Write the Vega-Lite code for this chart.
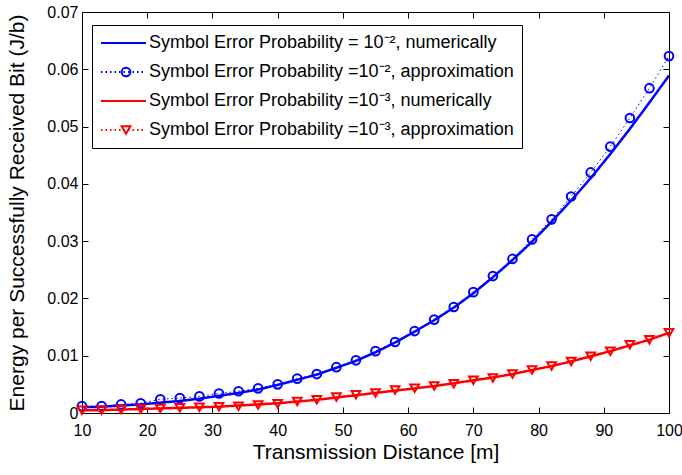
{
  "$schema": "https://vega.github.io/schema/vega-lite/v6.json",
  "width": 587,
  "height": 401,
  "autosize": {"type": "none"},
  "padding": {"left": 82, "top": 12, "right": 13, "bottom": 62},
  "background": "white",
  "config": {
    "font": "Liberation Sans",
    "view": {"stroke": "#000", "strokeWidth": 1},
    "axis": {
      "grid": false, "domain": false, "tickColor": "#000", "tickSize": 6, "offset": -6, "tickWidth": 1, "labelFlush": false,
      "labelColor": "#000", "labelFontSize": 16, "labelFont": "Liberation Sans",
      "titleFontSize": 21, "titleFontWeight": "normal", "titleColor": "#000", "titleFont": "Liberation Sans"
    }
  },
  "data": {
    "values": [
      {"distance": 10, "energy": 0.0010, "series": "Symbol Error Probability = 10⁻², numerically", "key": "n2"},
      {"distance": 13, "energy": 0.0011, "series": "Symbol Error Probability = 10⁻², numerically", "key": "n2"},
      {"distance": 16, "energy": 0.0013, "series": "Symbol Error Probability = 10⁻², numerically", "key": "n2"},
      {"distance": 19, "energy": 0.0015, "series": "Symbol Error Probability = 10⁻², numerically", "key": "n2"},
      {"distance": 22, "energy": 0.0018, "series": "Symbol Error Probability = 10⁻², numerically", "key": "n2"},
      {"distance": 25, "energy": 0.0021, "series": "Symbol Error Probability = 10⁻², numerically", "key": "n2"},
      {"distance": 28, "energy": 0.0025, "series": "Symbol Error Probability = 10⁻², numerically", "key": "n2"},
      {"distance": 31, "energy": 0.0030, "series": "Symbol Error Probability = 10⁻², numerically", "key": "n2"},
      {"distance": 34, "energy": 0.0035, "series": "Symbol Error Probability = 10⁻², numerically", "key": "n2"},
      {"distance": 37, "energy": 0.0041, "series": "Symbol Error Probability = 10⁻², numerically", "key": "n2"},
      {"distance": 40, "energy": 0.0049, "series": "Symbol Error Probability = 10⁻², numerically", "key": "n2"},
      {"distance": 43, "energy": 0.0058, "series": "Symbol Error Probability = 10⁻², numerically", "key": "n2"},
      {"distance": 46, "energy": 0.0067, "series": "Symbol Error Probability = 10⁻², numerically", "key": "n2"},
      {"distance": 49, "energy": 0.0079, "series": "Symbol Error Probability = 10⁻², numerically", "key": "n2"},
      {"distance": 52, "energy": 0.0091, "series": "Symbol Error Probability = 10⁻², numerically", "key": "n2"},
      {"distance": 55, "energy": 0.0106, "series": "Symbol Error Probability = 10⁻², numerically", "key": "n2"},
      {"distance": 58, "energy": 0.0123, "series": "Symbol Error Probability = 10⁻², numerically", "key": "n2"},
      {"distance": 61, "energy": 0.0142, "series": "Symbol Error Probability = 10⁻², numerically", "key": "n2"},
      {"distance": 64, "energy": 0.0162, "series": "Symbol Error Probability = 10⁻², numerically", "key": "n2"},
      {"distance": 67, "energy": 0.0184, "series": "Symbol Error Probability = 10⁻², numerically", "key": "n2"},
      {"distance": 70, "energy": 0.0209, "series": "Symbol Error Probability = 10⁻², numerically", "key": "n2"},
      {"distance": 73, "energy": 0.0237, "series": "Symbol Error Probability = 10⁻², numerically", "key": "n2"},
      {"distance": 76, "energy": 0.0267, "series": "Symbol Error Probability = 10⁻², numerically", "key": "n2"},
      {"distance": 79, "energy": 0.0299, "series": "Symbol Error Probability = 10⁻², numerically", "key": "n2"},
      {"distance": 82, "energy": 0.0334, "series": "Symbol Error Probability = 10⁻², numerically", "key": "n2"},
      {"distance": 85, "energy": 0.0371, "series": "Symbol Error Probability = 10⁻², numerically", "key": "n2"},
      {"distance": 88, "energy": 0.0410, "series": "Symbol Error Probability = 10⁻², numerically", "key": "n2"},
      {"distance": 91, "energy": 0.0452, "series": "Symbol Error Probability = 10⁻², numerically", "key": "n2"},
      {"distance": 94, "energy": 0.0496, "series": "Symbol Error Probability = 10⁻², numerically", "key": "n2"},
      {"distance": 97, "energy": 0.0542, "series": "Symbol Error Probability = 10⁻², numerically", "key": "n2"},
      {"distance": 100, "energy": 0.0589, "series": "Symbol Error Probability = 10⁻², numerically", "key": "n2"},

      {"distance": 10, "energy": 0.0012, "series": "Symbol Error Probability =10⁻², approximation", "key": "a2"},
      {"distance": 13, "energy": 0.0012, "series": "Symbol Error Probability =10⁻², approximation", "key": "a2"},
      {"distance": 16, "energy": 0.0015, "series": "Symbol Error Probability =10⁻², approximation", "key": "a2"},
      {"distance": 19, "energy": 0.0017, "series": "Symbol Error Probability =10⁻², approximation", "key": "a2"},
      {"distance": 22, "energy": 0.0024, "series": "Symbol Error Probability =10⁻², approximation", "key": "a2"},
      {"distance": 25, "energy": 0.0026, "series": "Symbol Error Probability =10⁻², approximation", "key": "a2"},
      {"distance": 28, "energy": 0.0029, "series": "Symbol Error Probability =10⁻², approximation", "key": "a2"},
      {"distance": 31, "energy": 0.0034, "series": "Symbol Error Probability =10⁻², approximation", "key": "a2"},
      {"distance": 34, "energy": 0.0038, "series": "Symbol Error Probability =10⁻², approximation", "key": "a2"},
      {"distance": 37, "energy": 0.0043, "series": "Symbol Error Probability =10⁻², approximation", "key": "a2"},
      {"distance": 40, "energy": 0.0050, "series": "Symbol Error Probability =10⁻², approximation", "key": "a2"},
      {"distance": 43, "energy": 0.0060, "series": "Symbol Error Probability =10⁻², approximation", "key": "a2"},
      {"distance": 46, "energy": 0.0068, "series": "Symbol Error Probability =10⁻², approximation", "key": "a2"},
      {"distance": 49, "energy": 0.0080, "series": "Symbol Error Probability =10⁻², approximation", "key": "a2"},
      {"distance": 52, "energy": 0.0092, "series": "Symbol Error Probability =10⁻², approximation", "key": "a2"},
      {"distance": 55, "energy": 0.0108, "series": "Symbol Error Probability =10⁻², approximation", "key": "a2"},
      {"distance": 58, "energy": 0.0124, "series": "Symbol Error Probability =10⁻², approximation", "key": "a2"},
      {"distance": 61, "energy": 0.0143, "series": "Symbol Error Probability =10⁻², approximation", "key": "a2"},
      {"distance": 64, "energy": 0.0163, "series": "Symbol Error Probability =10⁻², approximation", "key": "a2"},
      {"distance": 67, "energy": 0.0185, "series": "Symbol Error Probability =10⁻², approximation", "key": "a2"},
      {"distance": 70, "energy": 0.0211, "series": "Symbol Error Probability =10⁻², approximation", "key": "a2"},
      {"distance": 73, "energy": 0.0239, "series": "Symbol Error Probability =10⁻², approximation", "key": "a2"},
      {"distance": 76, "energy": 0.0269, "series": "Symbol Error Probability =10⁻², approximation", "key": "a2"},
      {"distance": 79, "energy": 0.0303, "series": "Symbol Error Probability =10⁻², approximation", "key": "a2"},
      {"distance": 82, "energy": 0.0338, "series": "Symbol Error Probability =10⁻², approximation", "key": "a2"},
      {"distance": 85, "energy": 0.0378, "series": "Symbol Error Probability =10⁻², approximation", "key": "a2"},
      {"distance": 88, "energy": 0.0420, "series": "Symbol Error Probability =10⁻², approximation", "key": "a2"},
      {"distance": 91, "energy": 0.0465, "series": "Symbol Error Probability =10⁻², approximation", "key": "a2"},
      {"distance": 94, "energy": 0.0515, "series": "Symbol Error Probability =10⁻², approximation", "key": "a2"},
      {"distance": 97, "energy": 0.0567, "series": "Symbol Error Probability =10⁻², approximation", "key": "a2"},
      {"distance": 100, "energy": 0.0623, "series": "Symbol Error Probability =10⁻², approximation", "key": "a2"},

      {"distance": 10, "energy": 0.0005, "series": "Symbol Error Probability =10⁻³, numerically", "key": "n3"},
      {"distance": 13, "energy": 0.0005, "series": "Symbol Error Probability =10⁻³, numerically", "key": "n3"},
      {"distance": 16, "energy": 0.0006, "series": "Symbol Error Probability =10⁻³, numerically", "key": "n3"},
      {"distance": 19, "energy": 0.0007, "series": "Symbol Error Probability =10⁻³, numerically", "key": "n3"},
      {"distance": 22, "energy": 0.0008, "series": "Symbol Error Probability =10⁻³, numerically", "key": "n3"},
      {"distance": 25, "energy": 0.0009, "series": "Symbol Error Probability =10⁻³, numerically", "key": "n3"},
      {"distance": 28, "energy": 0.0010, "series": "Symbol Error Probability =10⁻³, numerically", "key": "n3"},
      {"distance": 31, "energy": 0.0011, "series": "Symbol Error Probability =10⁻³, numerically", "key": "n3"},
      {"distance": 34, "energy": 0.0013, "series": "Symbol Error Probability =10⁻³, numerically", "key": "n3"},
      {"distance": 37, "energy": 0.0015, "series": "Symbol Error Probability =10⁻³, numerically", "key": "n3"},
      {"distance": 40, "energy": 0.0017, "series": "Symbol Error Probability =10⁻³, numerically", "key": "n3"},
      {"distance": 43, "energy": 0.0020, "series": "Symbol Error Probability =10⁻³, numerically", "key": "n3"},
      {"distance": 46, "energy": 0.0023, "series": "Symbol Error Probability =10⁻³, numerically", "key": "n3"},
      {"distance": 49, "energy": 0.0027, "series": "Symbol Error Probability =10⁻³, numerically", "key": "n3"},
      {"distance": 52, "energy": 0.0031, "series": "Symbol Error Probability =10⁻³, numerically", "key": "n3"},
      {"distance": 55, "energy": 0.0035, "series": "Symbol Error Probability =10⁻³, numerically", "key": "n3"},
      {"distance": 58, "energy": 0.0039, "series": "Symbol Error Probability =10⁻³, numerically", "key": "n3"},
      {"distance": 61, "energy": 0.0043, "series": "Symbol Error Probability =10⁻³, numerically", "key": "n3"},
      {"distance": 64, "energy": 0.0047, "series": "Symbol Error Probability =10⁻³, numerically", "key": "n3"},
      {"distance": 67, "energy": 0.0052, "series": "Symbol Error Probability =10⁻³, numerically", "key": "n3"},
      {"distance": 70, "energy": 0.0057, "series": "Symbol Error Probability =10⁻³, numerically", "key": "n3"},
      {"distance": 73, "energy": 0.0062, "series": "Symbol Error Probability =10⁻³, numerically", "key": "n3"},
      {"distance": 76, "energy": 0.0068, "series": "Symbol Error Probability =10⁻³, numerically", "key": "n3"},
      {"distance": 79, "energy": 0.0075, "series": "Symbol Error Probability =10⁻³, numerically", "key": "n3"},
      {"distance": 82, "energy": 0.0082, "series": "Symbol Error Probability =10⁻³, numerically", "key": "n3"},
      {"distance": 85, "energy": 0.0090, "series": "Symbol Error Probability =10⁻³, numerically", "key": "n3"},
      {"distance": 88, "energy": 0.0099, "series": "Symbol Error Probability =10⁻³, numerically", "key": "n3"},
      {"distance": 91, "energy": 0.0108, "series": "Symbol Error Probability =10⁻³, numerically", "key": "n3"},
      {"distance": 94, "energy": 0.0118, "series": "Symbol Error Probability =10⁻³, numerically", "key": "n3"},
      {"distance": 97, "energy": 0.0128, "series": "Symbol Error Probability =10⁻³, numerically", "key": "n3"},
      {"distance": 100, "energy": 0.0140, "series": "Symbol Error Probability =10⁻³, numerically", "key": "n3"},

      {"distance": 10, "energy": 0.0005, "series": "Symbol Error Probability =10⁻³, approximation", "key": "a3"},
      {"distance": 13, "energy": 0.0005, "series": "Symbol Error Probability =10⁻³, approximation", "key": "a3"},
      {"distance": 16, "energy": 0.0006, "series": "Symbol Error Probability =10⁻³, approximation", "key": "a3"},
      {"distance": 19, "energy": 0.0007, "series": "Symbol Error Probability =10⁻³, approximation", "key": "a3"},
      {"distance": 22, "energy": 0.0008, "series": "Symbol Error Probability =10⁻³, approximation", "key": "a3"},
      {"distance": 25, "energy": 0.0009, "series": "Symbol Error Probability =10⁻³, approximation", "key": "a3"},
      {"distance": 28, "energy": 0.0010, "series": "Symbol Error Probability =10⁻³, approximation", "key": "a3"},
      {"distance": 31, "energy": 0.0011, "series": "Symbol Error Probability =10⁻³, approximation", "key": "a3"},
      {"distance": 34, "energy": 0.0012, "series": "Symbol Error Probability =10⁻³, approximation", "key": "a3"},
      {"distance": 37, "energy": 0.0014, "series": "Symbol Error Probability =10⁻³, approximation", "key": "a3"},
      {"distance": 40, "energy": 0.0016, "series": "Symbol Error Probability =10⁻³, approximation", "key": "a3"},
      {"distance": 43, "energy": 0.0020, "series": "Symbol Error Probability =10⁻³, approximation", "key": "a3"},
      {"distance": 46, "energy": 0.0023, "series": "Symbol Error Probability =10⁻³, approximation", "key": "a3"},
      {"distance": 49, "energy": 0.0028, "series": "Symbol Error Probability =10⁻³, approximation", "key": "a3"},
      {"distance": 52, "energy": 0.0032, "series": "Symbol Error Probability =10⁻³, approximation", "key": "a3"},
      {"distance": 55, "energy": 0.0035, "series": "Symbol Error Probability =10⁻³, approximation", "key": "a3"},
      {"distance": 58, "energy": 0.0040, "series": "Symbol Error Probability =10⁻³, approximation", "key": "a3"},
      {"distance": 61, "energy": 0.0043, "series": "Symbol Error Probability =10⁻³, approximation", "key": "a3"},
      {"distance": 64, "energy": 0.0047, "series": "Symbol Error Probability =10⁻³, approximation", "key": "a3"},
      {"distance": 67, "energy": 0.0051, "series": "Symbol Error Probability =10⁻³, approximation", "key": "a3"},
      {"distance": 70, "energy": 0.0057, "series": "Symbol Error Probability =10⁻³, approximation", "key": "a3"},
      {"distance": 73, "energy": 0.0061, "series": "Symbol Error Probability =10⁻³, approximation", "key": "a3"},
      {"distance": 76, "energy": 0.0068, "series": "Symbol Error Probability =10⁻³, approximation", "key": "a3"},
      {"distance": 79, "energy": 0.0075, "series": "Symbol Error Probability =10⁻³, approximation", "key": "a3"},
      {"distance": 82, "energy": 0.0082, "series": "Symbol Error Probability =10⁻³, approximation", "key": "a3"},
      {"distance": 85, "energy": 0.0090, "series": "Symbol Error Probability =10⁻³, approximation", "key": "a3"},
      {"distance": 88, "energy": 0.0099, "series": "Symbol Error Probability =10⁻³, approximation", "key": "a3"},
      {"distance": 91, "energy": 0.0108, "series": "Symbol Error Probability =10⁻³, approximation", "key": "a3"},
      {"distance": 94, "energy": 0.0119, "series": "Symbol Error Probability =10⁻³, approximation", "key": "a3"},
      {"distance": 97, "energy": 0.0128, "series": "Symbol Error Probability =10⁻³, approximation", "key": "a3"},
      {"distance": 100, "energy": 0.0140, "series": "Symbol Error Probability =10⁻³, approximation", "key": "a3"}
    ]
  },
  "layer": [
    {
      "transform": [{"filter": "indexof(datum.key, 'n') === 0"}],
      "mark": {"type": "line", "strokeWidth": 2.5},
      "encoding": {
        "x": {"field": "distance", "type": "quantitative",
              "scale": {"domain": [10, 100], "nice": false, "zero": false},
              "axis": {"orient": "bottom", "values": [10, 20, 30, 40, 50, 60, 70, 80, 90, 100], "title": "Transmission Distance [m]", "labelPadding": 9, "titlePadding": 3}},
        "y": {"field": "energy", "type": "quantitative",
              "scale": {"domain": [0, 0.07], "nice": false, "zero": false},
              "axis": {"orient": "left", "values": [0, 0.01, 0.02, 0.03, 0.04, 0.05, 0.06, 0.07],
                       "labelExpr": "datum.value == 0 ? '0' : format(datum.value, '.2f')",
                       "title": "Energy per Successfully Received Bit (J/b)", "labelPadding": 4, "titlePadding": 19}},
        "color": {"field": "series", "type": "nominal",
                  "scale": {"domain": ["Symbol Error Probability = 10⁻², numerically", "Symbol Error Probability =10⁻², approximation", "Symbol Error Probability =10⁻³, numerically", "Symbol Error Probability =10⁻³, approximation"],
                            "range": ["#0000ff", "#0000ff", "#ff0000", "#ff0000"]},
                  "legend": {"orient": "none", "legendX": 10, "legendY": 13, "title": null,
                             "labelFontSize": 18, "labelColor": "#000", "labelFont": "Liberation Sans", "labelLimit": 1000,
                             "clipHeight": 20, "rowPadding": 9, "padding": 8, "symbolType": "stroke", "symbolSize": 2025, "symbolStrokeWidth": 2,
                             "symbolOffset": 0, "labelOffset": 2, "strokeColor": "#000", "fillColor": "#fff"}},
        "strokeDash": {"field": "series", "type": "nominal",
                  "scale": {"domain": ["Symbol Error Probability = 10⁻², numerically", "Symbol Error Probability =10⁻², approximation", "Symbol Error Probability =10⁻³, numerically", "Symbol Error Probability =10⁻³, approximation"],
                            "range": [[1, 0], [1.5, 3], [1, 0], [1.5, 3]]},
                  "legend": {"orient": "none", "legendX": 10, "legendY": 13, "title": null,
                             "labelFontSize": 18, "labelColor": "#000", "labelFont": "Liberation Sans", "labelLimit": 1000,
                             "clipHeight": 20, "rowPadding": 9, "padding": 8, "symbolType": "stroke", "symbolSize": 2025, "symbolStrokeWidth": 2,
                             "symbolOffset": 0, "labelOffset": 2, "strokeColor": "#000", "fillColor": "#fff"}}
      }
    },
    {
      "transform": [{"filter": "indexof(datum.key, 'a') === 0"}],
      "mark": {"type": "line", "strokeWidth": 1},
      "encoding": {
        "x": {"field": "distance", "type": "quantitative", "axis": null},
        "y": {"field": "energy", "type": "quantitative", "axis": null},
        "color": {"field": "series", "type": "nominal"},
        "strokeDash": {"field": "series", "type": "nominal"}
      }
    },
    {
      "transform": [{"filter": "indexof(datum.key, 'a') === 0"}],
      "mark": {"type": "point", "filled": false, "strokeWidth": 2, "size": 75, "opacity": 1},
      "encoding": {
        "x": {"field": "distance", "type": "quantitative", "axis": null},
        "y": {"field": "energy", "type": "quantitative", "axis": null},
        "stroke": {"field": "key", "type": "nominal",
                   "scale": {"domain": ["n2", "a2", "n3", "a3"], "range": ["#0000ff", "#0000ff", "#ff0000", "#ff0000"]},
                   "legend": {"orient": "none", "legendX": 27, "legendY": 13, "title": null,
                              "labelFontSize": 18, "labelColor": "transparent", "labelFont": "Liberation Sans", "labelExpr": "' '",
                              "clipHeight": 20, "rowPadding": 9, "padding": 8, "symbolSize": 75, "symbolStrokeWidth": 2,
                              "symbolFillColor": "transparent", "symbolOffset": 0, "strokeColor": "transparent", "fillColor": "transparent"}},
        "shape": {"field": "key", "type": "nominal",
                  "scale": {"domain": ["n2", "a2", "n3", "a3"], "range": ["M0,0", "circle", "M0,0", "triangle-down"]},
                  "legend": {"orient": "none", "legendX": 27, "legendY": 13, "title": null,
                             "labelFontSize": 18, "labelColor": "transparent", "labelFont": "Liberation Sans", "labelExpr": "' '",
                             "clipHeight": 20, "rowPadding": 9, "padding": 8, "symbolSize": 75, "symbolStrokeWidth": 2,
                             "symbolFillColor": "transparent", "symbolOffset": 0, "strokeColor": "transparent", "fillColor": "transparent"}}
      }
    },
    {
      "mark": {"type": "point", "opacity": 0},
      "encoding": {
        "x": {"field": "distance", "type": "quantitative",
              "axis": {"orient": "top", "values": [10, 20, 30, 40, 50, 60, 70, 80, 90, 100], "labels": false, "title": null}},
        "y": {"field": "energy", "type": "quantitative",
              "axis": {"orient": "right", "values": [0, 0.01, 0.02, 0.03, 0.04, 0.05, 0.06, 0.07], "labels": false, "title": null}}
      }
    }
  ],
  "resolve": {"axis": {"x": "independent", "y": "independent"}}
}
